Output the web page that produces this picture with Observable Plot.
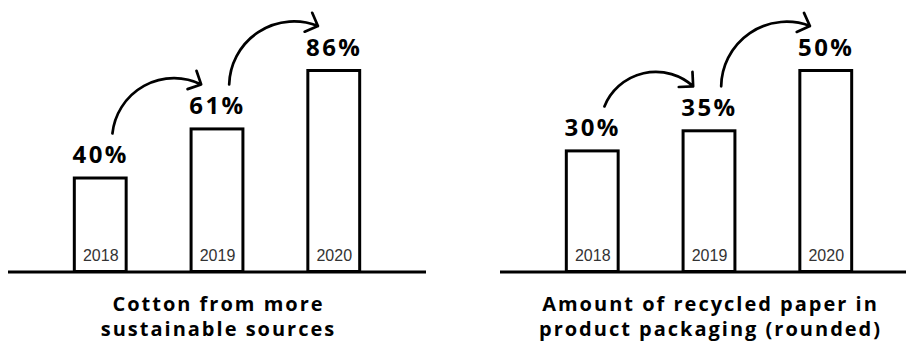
<!DOCTYPE html>
<html>
<head>
<meta charset="utf-8">
<script src="https://cdn.jsdelivr.net/npm/d3@7"></script>
<script src="https://cdn.jsdelivr.net/npm/@observablehq/plot@0.6"></script>
<style>
  html, body { margin: 0; padding: 0; background: #fff; }
  #wrap { position: relative; width: 906px; height: 345px; overflow: hidden; background: #fff; }
  .panel { position: absolute; top: 0; width: 435px; }
  .panel svg g[font-weight="bold"] text { letter-spacing: 0.1em; }
  .cap {
    font-family: "Open Sans", "Liberation Sans", Arial, sans-serif;
    font-weight: bold; font-size: 20px; line-height: 25px;
    letter-spacing: 0.1em; text-align: center; color: #000;
    margin-top: 11px; padding-left: 0.1em;
  }
</style>
</head>
<body>
<div id="wrap"></div>
<script>
// ---- data ----
const years = [2018, 2019, 2020];
const yearLabels = ["2018", "2019", "2020"];
const cottonValues = [40, 61, 86];
const paperValues = [30, 35, 50];
const cottonCaption = ["Cotton from more", "sustainable sources"];
const paperCaption = ["Amount of recycled paper in", "product packaging (rounded)"];

function makePanel(values, caption, left) {
  const data = years.map((y, i) => ({year: y, label: yearLabels[i], value: values[i]}));
  const pairs = d3.pairs(data).map(([a, b]) => ({a, b}));
  const half = 0.222; // half bar width in year units
  const chart = Plot.plot({
    width: 435,
    height: 280,
    marginLeft: 8,
    marginRight: 9,
    marginTop: 70.5,
    marginBottom: 8.5,
    x: {domain: [years[0] - 0.79, years[years.length - 1] + 0.79], axis: null},
    y: {domain: [0, d3.max(values)], axis: null},
    style: {fontFamily: "'Liberation Sans', Arial, sans-serif", background: "transparent", overflow: "visible"},
    marks: [
      Plot.rect(data, {x1: d => d.year - half, x2: d => d.year + half, y1: () => 0, y2: "value",
        fill: "white", stroke: "black", strokeWidth: 3}),
      Plot.ruleY([0], {stroke: "black", strokeWidth: 3}),
      Plot.text(data, {x: "year", y: () => 0, text: "label", dy: -16, fontSize: 16, fill: "#333"}),
      Plot.text(data, {x: "year", y: "value", text: d => d.value + "%", dy: -23,
        fontSize: 24, fontWeight: "bold", fill: "black", fontFamily: "'Open Sans', sans-serif"}),
      Plot.arrow(pairs, {
        x1: d => d.a.year + 0.1, y1: d => d.a.value,
        x2: d => d.b.year - 0.14, y2: d => d.b.value,
        dy: -45, bend: 55, headAngle: 90, headLength: 8,
        stroke: "black", strokeWidth: 2.7
      })
    ]
  });
  const div = document.createElement("div");
  div.className = "panel";
  div.style.left = left + "px";
  div.appendChild(chart);
  const cap = document.createElement("div");
  cap.className = "cap";
  cap.innerHTML = caption.join("<br>");
  div.appendChild(cap);
  document.getElementById("wrap").appendChild(div);
}

makePanel(cottonValues, cottonCaption, 0);
makePanel(paperValues, paperCaption, 492);
</script>
</body>
</html>
